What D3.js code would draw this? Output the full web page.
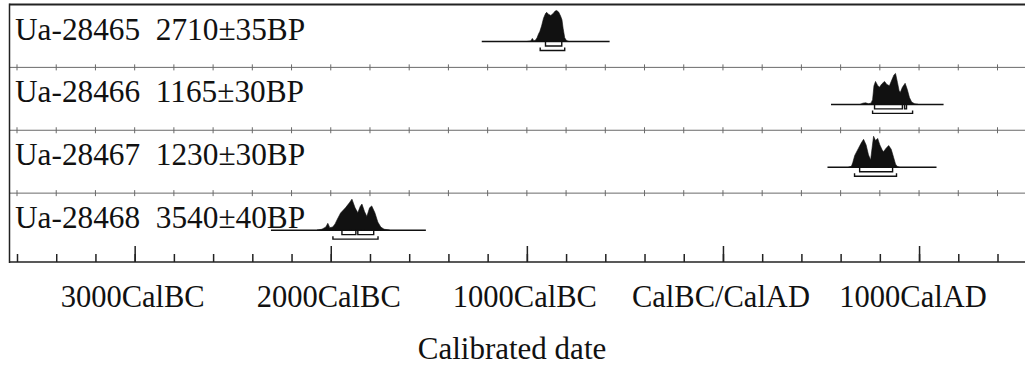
<!DOCTYPE html>
<html>
<head>
<meta charset="utf-8">
<script src="https://cdn.jsdelivr.net/npm/d3@7"></script>
<style>
  body { margin: 0; background: #fff; }
  svg { display: block; }
</style>
</head>
<body>
<div id="chart"></div>
<script>
// sample labels
const labIds = ["Ua-28465", "Ua-28466", "Ua-28467", "Ua-28468"];
const bpDates = ["2710±35BP", "1165±30BP", "1230±30BP", "3540±40BP"];

// extent of the thin line under each distribution (cal years, BC negative)
const lineRanges = [[-1230, -578], [551, 1125], [533, 1089], [-2305, -1515]];

// probability curves: [year, relative height]
const dens28465 = [[-1000, 0], [-980, 0.02], [-972, 0.1], [-964, 0.02], [-955, 0.05], [-948, 0.12],
  [-940, 0.25], [-934, 0.32], [-925, 0.5], [-915, 0.75], [-905, 0.9], [-899, 0.94], [-890, 0.88],
  [-878, 0.84], [-866, 0.9], [-856, 0.98], [-848, 1.0], [-838, 0.95], [-828, 0.82], [-821, 0.7],
  [-815, 0.42], [-807, 0.12], [-798, 0.03], [-785, 0]];
const dens28466 = [[700, 0], [714, 0.04], [728, 0.05], [742, 0.02], [755, 0.04], [763, 0.15],
  [770, 0.6], [778, 0.74], [788, 0.62], [798, 0.55], [810, 0.66], [824, 0.74], [836, 0.64],
  [849, 0.6], [862, 0.8], [872, 0.95], [880, 1.0], [890, 0.7], [898, 0.45], [904, 0.38],
  [915, 0.55], [929, 0.68], [940, 0.48], [951, 0.22], [962, 0.08], [977, 0.02], [995, 0]];
const dens28467 = [[640, 0], [655, 0.03], [662, 0.15], [672, 0.38], [690, 0.6], [705, 0.78],
  [717, 0.9], [730, 0.72], [742, 0.4], [753, 0.23], [760, 0.6], [768, 1.0], [778, 0.86],
  [789, 0.93], [800, 0.72], [812, 0.56], [819, 0.5], [830, 0.6], [845, 0.7], [858, 0.58],
  [870, 0.32], [880, 0.1], [890, 0.02], [900, 0]];
const dens28468 = [[-2070, 0], [-2045, 0.03], [-2025, 0.1], [-2015, 0.22], [-2005, 0.08],
  [-1990, 0.1], [-1978, 0.2], [-1969, 0.32], [-1950, 0.55], [-1925, 0.72], [-1905, 0.88],
  [-1892, 1.0], [-1876, 0.72], [-1862, 0.56], [-1850, 0.76], [-1841, 0.84], [-1828, 0.6],
  [-1816, 0.44], [-1802, 0.72], [-1791, 0.78], [-1775, 0.56], [-1760, 0.26], [-1745, 0.1],
  [-1728, 0.03], [-1700, 0]];
const densities = [dens28465, dens28466, dens28467, dens28468];

// 68.2% and 95.4% ranges
const sigma1 = [[[-905, -822]], [[773, 915], [926, 936]], [[697, 865]], [[-1943, -1872], [-1862, -1781]]];
const sigma2 = [[[-932, -807]], [[763, 967]], [[671, 885]], [[-1989, -1759]]];

// axis
const tickYears = [-3600, -3400, -3200, -3000, -2800, -2600, -2400, -2200, -2000, -1800, -1600,
  -1400, -1200, -1000, -800, -600, -400, -200, 0, 200, 400, 600, 800, 1000, 1200, 1400];
const majorYears = [-3000, -2000, -1000, 0, 1000];
const majorLabels = ["3000CalBC", "2000CalBC", "1000CalBC", "CalBC/CalAD", "1000CalAD"];
const axisTitle = "Calibrated date";

var serif = "'Liberation Serif', 'Times New Roman', Times, 'DejaVu Serif', serif";
var width = 1025, height = 367;
var frameLeft = 9.5, frameTop = 4.5, axisY = 262;

var svg = d3.select("#chart").append("svg")
  .attr("width", width)
  .attr("height", height)
  .attr("font-family", serif);

var x = d3.scaleLinear().domain([-3600, 1400]).range([17, 997.5]);
var rows = d3.scaleBand().domain(labIds).range([frameTop, 256]);
var h = d3.scaleLinear().domain([0, 1]).range([0, 31]);

// row separators with little crosses
labIds.slice(1).forEach(function (id) {
  var yy = rows(id);
  svg.append("line")
    .attr("x1", frameLeft).attr("x2", width)
    .attr("y1", yy).attr("y2", yy)
    .attr("stroke", "#6a6a6a").attr("stroke-width", 1);
  svg.append("g").selectAll("line")
    .data(tickYears)
    .enter().append("line")
    .attr("x1", d => x(d)).attr("x2", d => x(d))
    .attr("y1", yy - 3).attr("y2", yy + 3)
    .attr("stroke", "#6a6a6a").attr("stroke-width", 1);
});

// frame: top and left
svg.append("line")
  .attr("x1", frameLeft).attr("x2", width)
  .attr("y1", frameTop).attr("y2", frameTop)
  .attr("stroke", "#222").attr("stroke-width", 2);
svg.append("line")
  .attr("x1", frameLeft).attr("x2", frameLeft)
  .attr("y1", frameTop - 1).attr("y2", axisY + 1)
  .attr("stroke", "#222").attr("stroke-width", 1.5);

// bottom axis: minor and major ticks pointing up
var minorAxis = d3.axisTop(x).tickValues(tickYears).tickSize(8).tickFormat("");
var majorAxis = d3.axisTop(x).tickValues(majorYears).tickSize(16).tickFormat("");
[minorAxis, majorAxis].forEach(function (ax) {
  var g = svg.append("g")
    .attr("transform", "translate(0," + axisY + ")")
    .call(ax);
  g.select(".domain").remove();
  g.selectAll("line").attr("stroke", "#222").attr("stroke-width", 1.5);
});
svg.append("line")
  .attr("x1", frameLeft).attr("x2", width)
  .attr("y1", axisY).attr("y2", axisY)
  .attr("stroke", "#222").attr("stroke-width", 1.5);

// tick labels
svg.append("g").selectAll("text")
  .data(majorYears)
  .enter().append("text")
  .attr("x", d => x(d) - 2 - (d > 0 ? 4 : 0))
  .attr("y", 307)
  .attr("text-anchor", "middle")
  .attr("fill", "#111")
  .style("font-size", "30.5px")
  .text((d, i) => majorLabels[i]);

svg.append("text")
  .attr("x", 512)
  .attr("y", 359)
  .attr("text-anchor", "middle")
  .attr("fill", "#111")
  .style("font-size", "31px")
  .text(axisTitle);

// rows
labIds.forEach(function (id, i) {
  var rowTop = rows(id);
  var base = rowTop + 37;

  svg.append("text")
    .attr("x", 15)
    .attr("y", rowTop + 35)
    .attr("fill", "#111")
    .style("font-size", "31.3px")
    .style("white-space", "pre")
    .text(id + "  " + bpDates[i]);

  svg.append("line")
    .attr("x1", x(lineRanges[i][0])).attr("x2", x(lineRanges[i][1]))
    .attr("y1", base).attr("y2", base)
    .attr("stroke", "#111").attr("stroke-width", 1.5);

  var area = d3.area()
    .x(d => x(d[0]))
    .y0(base)
    .y1(d => base - h(d[1]));
  svg.append("path")
    .datum(densities[i])
    .attr("d", area)
    .attr("fill", "#111")
    .attr("stroke", "#111")
    .attr("stroke-width", 0.6);

  svg.append("g").selectAll("path")
    .data(sigma1[i])
    .enter().append("path")
    .attr("d", r => "M" + x(r[0]) + "," + base + "V" + (base + 4.5) + "H" + x(r[1]) + "V" + base)
    .attr("fill", "none").attr("stroke", "#111").attr("stroke-width", 1.4);

  svg.append("g").selectAll("path")
    .data(sigma2[i])
    .enter().append("path")
    .attr("d", r => "M" + x(r[0]) + "," + (base + 6) + "V" + (base + 9) + "H" + x(r[1]) + "V" + (base + 6))
    .attr("fill", "none").attr("stroke", "#111").attr("stroke-width", 1.4);
});
</script>
</body>
</html>
